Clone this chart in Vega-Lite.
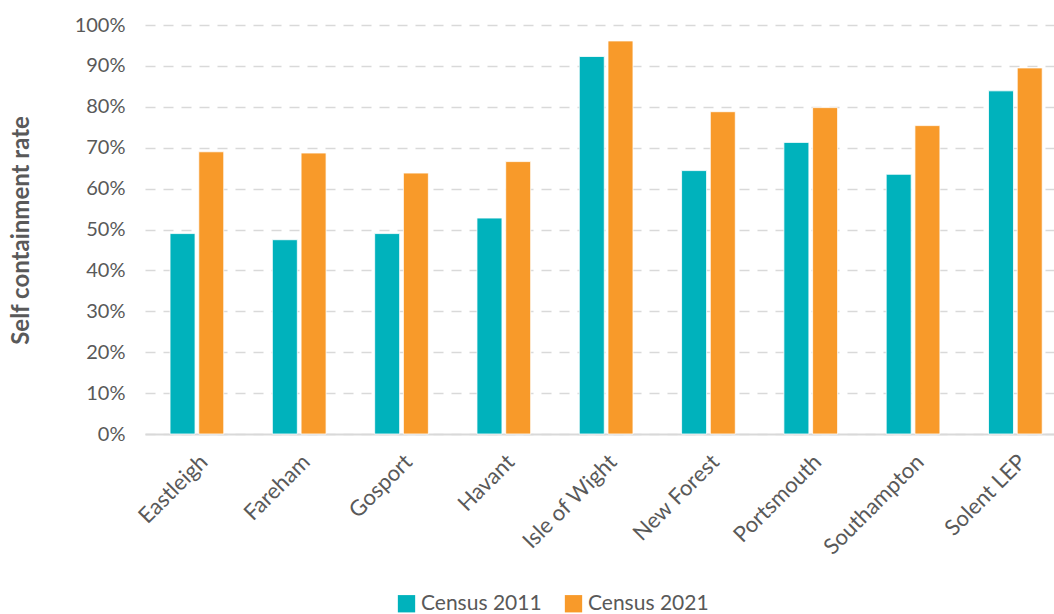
{
  "$schema": "https://vega.github.io/schema/vega-lite/v6.json",
  "width": 909,
  "height": 409,
  "autosize": {"type": "none"},
  "padding": {"left": 145, "top": 25, "right": 0, "bottom": 180},
  "background": "white",
  "config": {
    "view": {"stroke": null},
    "font": "Lato",
    "axis": {"labelFont": "Lato", "titleFont": "Lato"},
    "legend": {"labelFont": "Lato"}
  },
  "data": {
    "values": [
      {"area": "Eastleigh", "census": "Census 2011", "rate": 0.490},
      {"area": "Eastleigh", "census": "Census 2021", "rate": 0.690},
      {"area": "Fareham", "census": "Census 2011", "rate": 0.475},
      {"area": "Fareham", "census": "Census 2021", "rate": 0.687},
      {"area": "Gosport", "census": "Census 2011", "rate": 0.490},
      {"area": "Gosport", "census": "Census 2021", "rate": 0.638},
      {"area": "Havant", "census": "Census 2011", "rate": 0.528},
      {"area": "Havant", "census": "Census 2021", "rate": 0.666},
      {"area": "Isle of Wight", "census": "Census 2011", "rate": 0.923},
      {"area": "Isle of Wight", "census": "Census 2021", "rate": 0.961},
      {"area": "New Forest", "census": "Census 2011", "rate": 0.644},
      {"area": "New Forest", "census": "Census 2021", "rate": 0.788},
      {"area": "Portsmouth", "census": "Census 2011", "rate": 0.713},
      {"area": "Portsmouth", "census": "Census 2021", "rate": 0.798},
      {"area": "Southampton", "census": "Census 2011", "rate": 0.635},
      {"area": "Southampton", "census": "Census 2021", "rate": 0.754},
      {"area": "Solent LEP", "census": "Census 2011", "rate": 0.839},
      {"area": "Solent LEP", "census": "Census 2021", "rate": 0.895}
    ]
  },
  "mark": {"type": "bar", "stroke": "white", "strokeWidth": 0.8},
  "encoding": {
    "x": {
      "field": "area",
      "type": "nominal",
      "sort": null,
      "scale": {"paddingInner": 0.475, "paddingOuter": 0.18, "align": 0.68},
      "axis": {
        "title": null,
        "labelAngle": -45,
        "labelAlign": "right",
        "labelBaseline": "top",
        "labelFontSize": 22,
        "labelColor": "#595959",
        "labelPadding": 17,
        "labelDx": -6,
        "ticks": false,
        "domainColor": "#d9d9d9",
        "domainWidth": 2,
        "grid": false
      }
    },
    "xOffset": {
      "field": "census",
      "type": "nominal",
      "scale": {"paddingInner": 0.13, "paddingOuter": 0}
    },
    "y": {
      "field": "rate",
      "type": "quantitative",
      "scale": {"domain": [0, 1], "nice": false},
      "axis": {
        "title": "Self containment rate",
        "titleFontSize": 24,
        "titleFontWeight": "bold",
        "titleColor": "#595959",
        "titleAngle": -90,
        "titleX": -124,
        "titleY": 205,
        "titleAlign": "center",
        "titleBaseline": "middle",
        "format": ".0%",
        "values": [0, 0.1, 0.2, 0.3, 0.4, 0.5, 0.6, 0.7, 0.8, 0.9, 1],
        "labelFontSize": 20,
        "labelColor": "#595959",
        "labelPadding": 20,
        "ticks": false,
        "domain": false,
        "gridColor": "#d9d9d9",
        "gridWidth": 1.5,
        "gridDash": [10, 8]
      }
    },
    "color": {
      "field": "census",
      "type": "nominal",
      "scale": {"domain": ["Census 2011", "Census 2021"], "range": ["#00B2BC", "#F89A2A"]},
      "legend": {
        "title": null,
        "orient": "none",
        "direction": "horizontal",
        "legendX": 251,
        "legendY": 568,
        "symbolType": "square",
        "symbolSize": 300,
        "symbolStrokeWidth": 0,
        "labelFontSize": 21,
        "labelColor": "#595959",
        "labelOffset": 4,
        "columnPadding": 21
      }
    }
  }
}
